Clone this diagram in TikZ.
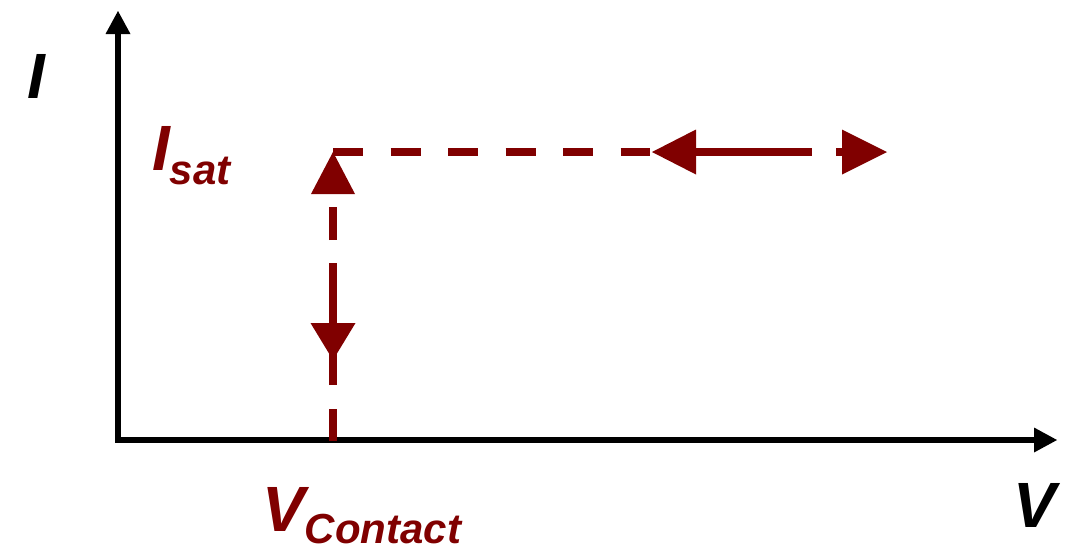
\documentclass[tikz,border=0pt]{standalone}
\usepackage{fontspec}
\setmainfont{Liberation Sans}
\usepackage{xcolor}
\usepackage{tikz}
\usetikzlibrary{arrows.meta}
\definecolor{satcolor}{RGB}{128,0,0}
\newcommand{\sublabelfont}{\fontsize{42}{46}\selectfont}
\tikzset{
  axis line/.style={
    line width=6.5pt,
    -{Triangle[length=23pt,width=25pt,line width=0pt]}
  },
  guide line/.style={
    draw=satcolor,
    line width=7.5pt
  },
  big label/.style={
    inner sep=0pt,
    font=\fontsize{64}{70}\selectfont\bfseries\itshape
  },
  sat label/.style={
    big label,
    text=satcolor,
    anchor=base west
  }
}

\begin{document}
\begin{tikzpicture}[x=1pt,y=-1pt]
  \useasboundingbox (0,0) rectangle (1068,550);

  % axes
  \coordinate (origin) at (118,440);
  \coordinate (itop) at (118,11);
  \coordinate (vend) at (1057,440);
  \draw[axis line] (origin) -- (itop);
  \draw[axis line] ([xshift=-3pt]origin) -- (vend);
  \node[big label, anchor=base] (ilabel) at (36,98) {I};
  \node[big label, anchor=base] (vlabel) at (1035,527) {V};

  % contact potential
  \coordinate (vcontact) at (333,441);
  \coordinate (knee) at (333,152);
  \draw[guide line, dash pattern=on 32pt off 24pt on 122pt off 23pt on 33pt off 20pt,
        -{Triangle[length=42pt,width=44pt,line width=0pt]}] (vcontact) -- (knee);
  \draw[guide line, -{Triangle[length=37pt,width=45pt,line width=0pt]}] (333,300) -- (333,360);

  % saturation current
  \draw[guide line, dash pattern=on 30pt off 27.5pt] (knee) -- (650,152);
  \draw[guide line, {Triangle[length=44pt,width=45pt,line width=0pt]}-] (652,152) -- (812,152);
  \draw[guide line, -{Triangle[length=45pt,width=45pt,line width=0pt]}] (836,152) -- (887,152);

  \node[sat label] (isat) at (152,170) {I\raisebox{-14pt}{\sublabelfont sat}};
  \node[sat label] (vcontactlabel) at (262,531) {V\raisebox{-12pt}{\sublabelfont Contact}};
\end{tikzpicture}
\end{document}
